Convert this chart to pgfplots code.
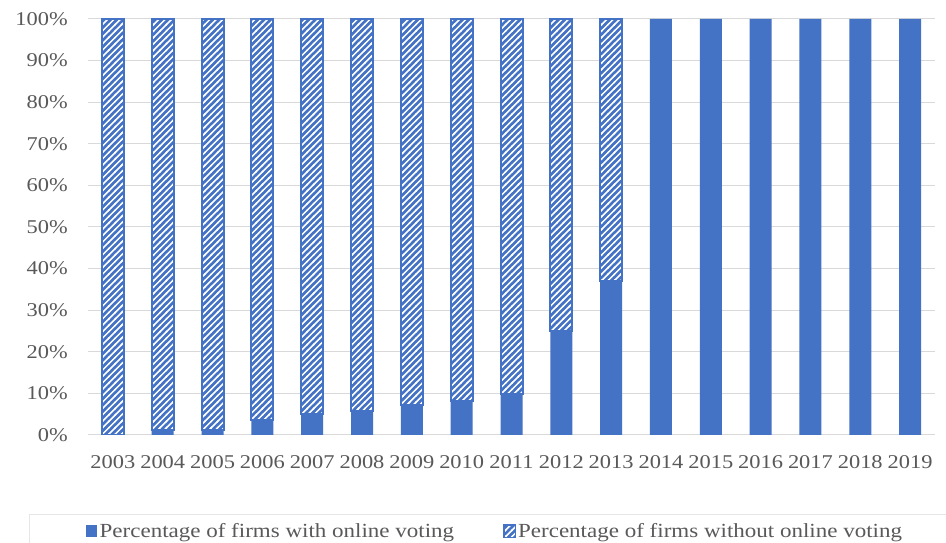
\documentclass[border=0pt]{standalone}
\usepackage{fontspec}
\setmainfont[FakeStretch=1.15]{Liberation Serif}
\usepackage{pgfplots}
\pgfplotsset{compat=1.18}
\usetikzlibrary{patterns}

\definecolor{barblue}{HTML}{4472C4}
\definecolor{gridgray}{HTML}{D9D9D9}
\definecolor{labelgray}{HTML}{595959}
\definecolor{framegray}{HTML}{E6E6E6}

% wide diagonal stripes for the "without" bars
\pgfdeclarepatternformonly{widestripes}{\pgfqpoint{-1pt}{-1pt}}{\pgfqpoint{7.4pt}{7.4pt}}{\pgfqpoint{6.4pt}{6.4pt}}{%
  \pgfsetlinewidth{1.5pt}%
  \pgfpathmoveto{\pgfqpoint{-1pt}{-1pt}}%
  \pgfpathlineto{\pgfqpoint{7.4pt}{7.4pt}}%
  \pgfusepath{stroke}%
}

% share of firms offering online voting, by year (index 0 = 2003)
\pgfplotstableread{
x  with  without
0  0     100
1  1.3   98.7
2  1.3   98.7
3  3.6   96.4
4  5.0   95.0
5  5.8   94.2
6  7.2   92.8
7  8.2   91.8
8  9.8   90.2
9  25.0  75.0
10 37.1  62.9
11 100   0
12 100   0
13 100   0
14 100   0
15 100   0
16 100   0
}\votingdata

\tikzset{
  hatched/.style={
    preaction={fill=barblue},
    pattern=widestripes, pattern color=white,
    draw=barblue, line width=2pt
  }
}

\begin{document}
\begin{tikzpicture}
\path[use as bounding box] (0,0) rectangle (946pt,543pt);
\fill[white] (0,0) rectangle (946pt,543pt);
% legend frame
\draw[framegray, line width=1pt] (29pt,0pt) |- (946pt,28.3pt);
\begin{axis}[
  at={(88pt,108pt)}, anchor=south west,
  scale only axis, width=847pt, height=416pt,
  ybar stacked, bar width=22pt,
  xmin=-0.5, xmax=16.5, ymin=0, ymax=100,
  xtick={0,...,16},
  xticklabels={2003,2004,2005,2006,2007,2008,2009,2010,2011,2012,2013,2014,2015,2016,2017,2018,2019},
  ytick={0,10,...,100},
  yticklabels={0\%,10\%,20\%,30\%,40\%,50\%,60\%,70\%,80\%,90\%,100\%},
  ymajorgrids, grid style={gridgray, line width=1pt},
  axis line style={draw=none}, tick style={draw=none},
  tick label style={font=\fontsize{19.5}{22}\selectfont, text=labelgray, inner sep=0pt},
  xticklabel style={anchor=north, yshift=-20pt},
  yticklabel style={anchor=east, xshift=-20pt},
  legend columns=2,
  legend style={at={(-0.0024,-0.2308)}, anchor=west, draw=none, fill=none,
    inner sep=0pt, font=\fontsize{20}{22}\selectfont, text=labelgray,
    nodes={inner xsep=2.5pt, inner ysep=0pt},
    /tikz/every even column/.append style={column sep=47pt}},
  legend image code/.code={\path[#1, line width=1pt] (0pt,-6pt) rectangle (11pt,6pt);},
]
\addplot[fill=barblue, draw=none] table[x=x, y=with] {\votingdata};
\addplot[hatched] table[x=x, y=without] {\votingdata};
\legend{Percentage of firms with online voting, Percentage of firms without online voting}
\end{axis}
\end{tikzpicture}
\end{document}
